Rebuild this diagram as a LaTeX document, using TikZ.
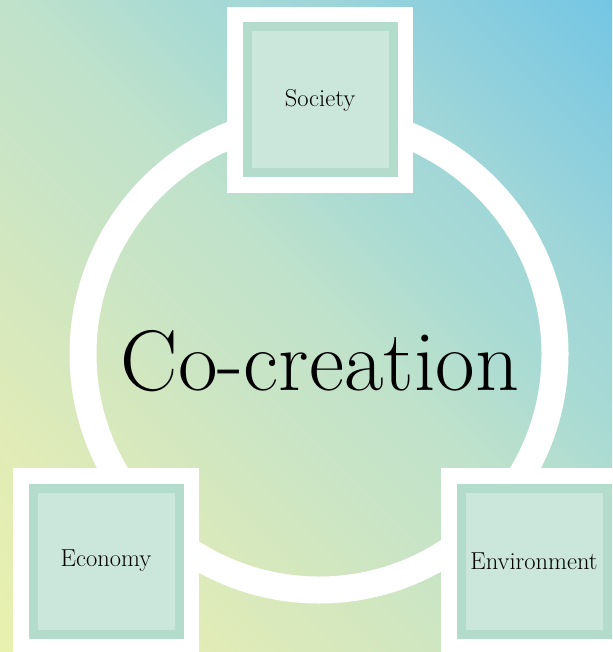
\documentclass[tikz,border=0pt]{standalone}
\usepackage{fontspec}
\definecolor{sa}{HTML}{E8F1AE}
\definecolor{sb}{HTML}{E0EBB7}
\definecolor{sc}{HTML}{C8E4C6}
\definecolor{sd}{HTML}{C0E2CA}
\definecolor{se}{HTML}{A8DAD4}
\definecolor{sf}{HTML}{A0D6D8}
\definecolor{sg}{HTML}{74C6E4}
\definecolor{cgreen}{HTML}{B3DCCC}
\definecolor{clight}{HTML}{CBE6DA}
\pgfdeclarehorizontalshading{bgshade}{100bp}{color(0bp)=(sa); color(14.6bp)=(sa); color(27.4bp)=(sb); color(44.3bp)=(sc); color(51.4bp)=(sd); color(61.3bp)=(se); color(68.4bp)=(sf); color(85.4bp)=(sg); color(100bp)=(sg)}
\tikzset{
  outerbox/.style={fill=white, draw=none, minimum size=186pt, inner sep=0pt},
  greenbox/.style={fill=cgreen, draw=none, minimum size=155pt, inner sep=0pt},
  lightbox/.style={fill=clight, draw=none, minimum size=137pt, inner sep=0pt, font=\fontsize{24.5}{28}\selectfont},
  ring/.style={draw=white, line width=27pt}
}
\begin{document}
\begin{tikzpicture}[x=1pt,y=-1pt]
\useasboundingbox (0,0) rectangle (612,652);
\shade[shading=bgshade, shading angle=45] (0,0) rectangle (612,652);
\draw[ring] (319,354) circle[radius=236];
\node[font=\fontsize{86}{98}\selectfont, anchor=base] (co) at (320,390) {Co-creation};
% Society
\node[outerbox] (socO) at (320,100) {};
\node[greenbox] (socG) at (socO) {};
\node[lightbox] (soc) at (socO) {Society};
% Economy
\node[outerbox] (ecoO) at (106,561) {};
\node[greenbox] (ecoG) at (ecoO) {};
\node[lightbox] (eco) at (ecoO) {Economy};
% Environment
\node[outerbox] (envO) at (534,561) {};
\node[greenbox] (envG) at (envO) {};
\node[lightbox] (env) at (envO) {Environment};
\end{tikzpicture}
\end{document}
